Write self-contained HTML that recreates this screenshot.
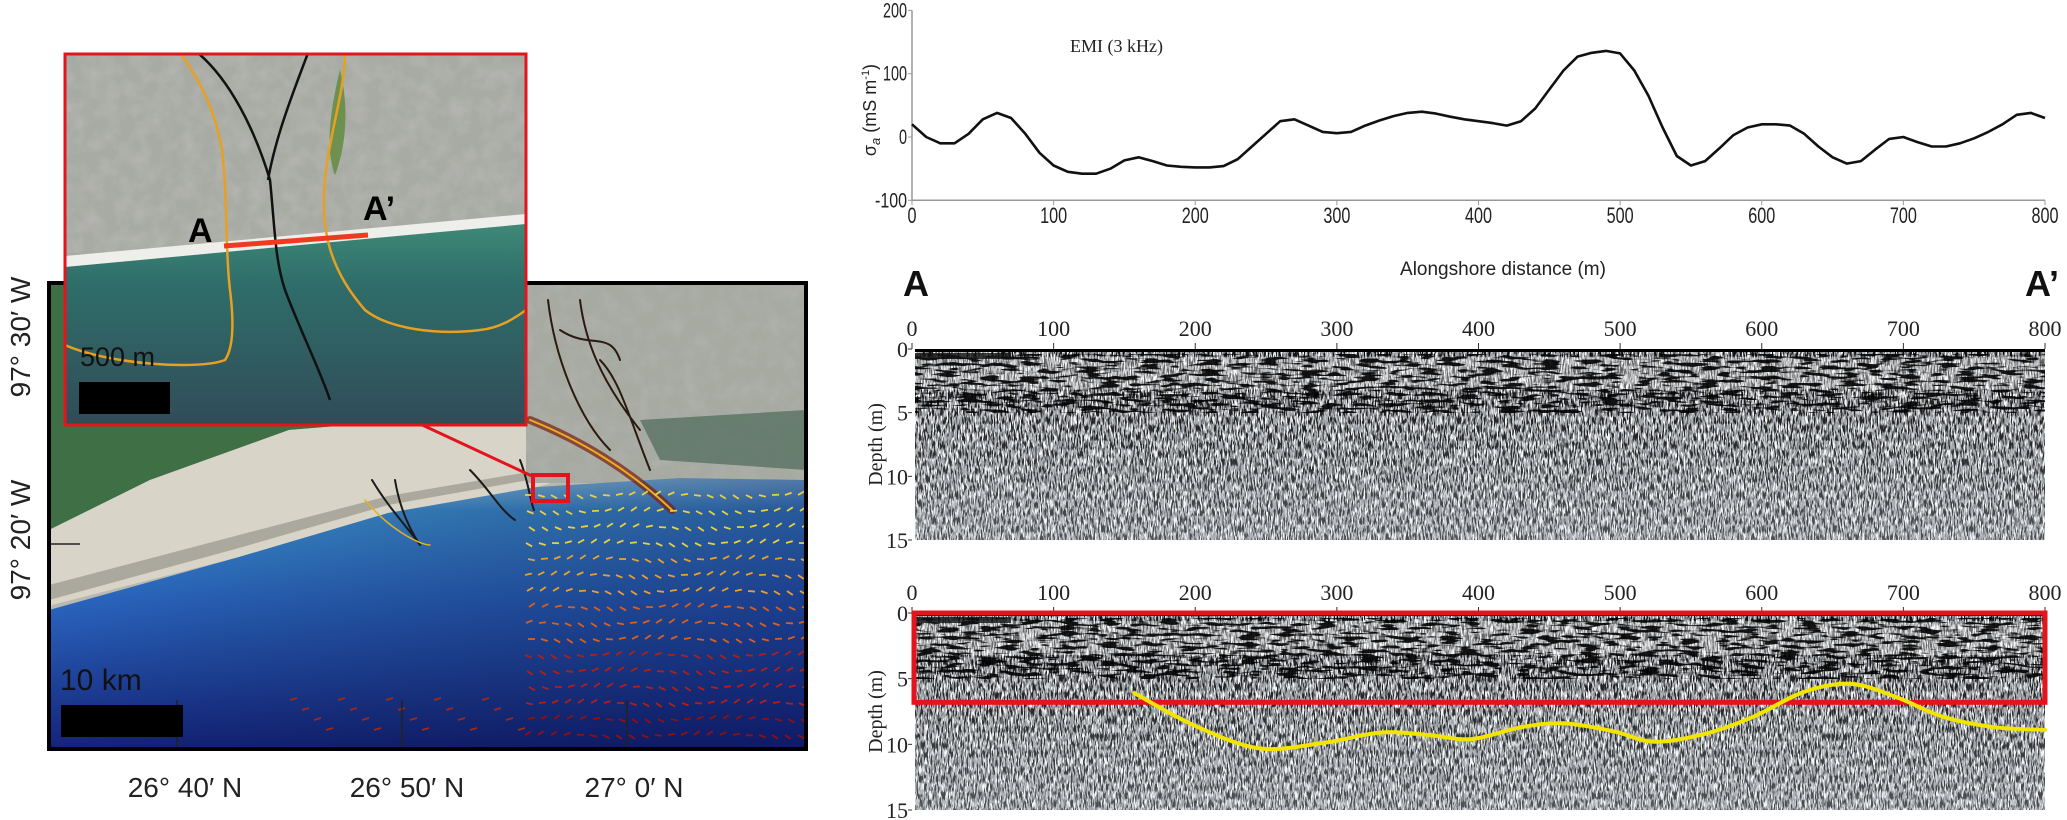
<!DOCTYPE html>
<html><head><meta charset="utf-8"><style>
html,body{margin:0;padding:0;background:#fff;width:2067px;height:820px;overflow:hidden}
svg{display:block}
.cond{font-family:"Liberation Sans Narrow","Liberation Sans",sans-serif}
.serif{font-family:"Liberation Serif",serif}
.sans{font-family:"Liberation Sans",sans-serif}
</style></head><body>
<svg id="fig" width="2067" height="820" viewBox="0 0 2067 820" xmlns="http://www.w3.org/2000/svg">
<defs>
 <linearGradient id="ocean" x1="0" y1="0" x2="0" y2="1">
  <stop offset="0" stop-color="#8fd0ef"/><stop offset="0.12" stop-color="#3f95d8"/>
  <stop offset="0.45" stop-color="#2a66c0"/><stop offset="1" stop-color="#14237a"/>
 </linearGradient>
 <linearGradient id="oceanR" x1="0" y1="0" x2="1" y2="0">
  <stop offset="0" stop-color="#000" stop-opacity="0"/><stop offset="1" stop-color="#0a0f50" stop-opacity="0.45"/>
 </linearGradient>
 <linearGradient id="water" x1="0" y1="0" x2="0" y2="1">
  <stop offset="0" stop-color="#3f8a78"/><stop offset="0.3" stop-color="#2f6e6a"/><stop offset="1" stop-color="#304c58"/>
 </linearGradient>
 <filter id="speck" x="0" y="0" width="100%" height="100%">
  <feTurbulence type="fractalNoise" baseFrequency="0.06" numOctaves="3" seed="4"/>
  <feColorMatrix type="matrix" values="0 0 0 0 0.45  0 0 0 0 0.45  0 0 0 0 0.43  0 0 0 -2.2 1.4"/>
 </filter>
 <filter id="gprB" x="0" y="0" width="100%" height="100%">
  <feTurbulence type="fractalNoise" baseFrequency="0.7 0.12" numOctaves="2" seed="7"/>
  <feColorMatrix type="matrix" values="0 0 0 0 0  0 0 0 0 0  0 0 0 0 0  -9 0 0 0 4.6"/>
 </filter>
 <filter id="gprW" x="0" y="0" width="100%" height="100%">
  <feTurbulence type="fractalNoise" baseFrequency="0.7 0.12" numOctaves="2" seed="19"/>
  <feColorMatrix type="matrix" values="0 0 0 0 1  0 0 0 0 1  0 0 0 0 1  -9 0 0 0 4.6"/>
 </filter>
 <filter id="bands" x="0" y="0" width="100%" height="100%">
  <feTurbulence type="fractalNoise" baseFrequency="0.05 0.3" numOctaves="2" seed="3"/>
  <feColorMatrix type="matrix" values="0 0 0 0 0  0 0 0 0 0  0 0 0 0 0  -10 0 0 0 5"/>
 </filter>
 <linearGradient id="fadeG" x1="0" y1="0" x2="0" y2="1">
  <stop offset="0" stop-color="#fff" stop-opacity="0"/><stop offset="0.45" stop-color="#e8eef2" stop-opacity="0.1"/><stop offset="1" stop-color="#dfe6ec" stop-opacity="0.3"/>
 </linearGradient>
 <clipPath id="mapclip"><rect x="49" y="283" width="757" height="466"/></clipPath>
 <clipPath id="insetclip"><rect x="65" y="53" width="461" height="372"/></clipPath>
</defs>

<!-- ================= MAP ================= -->
<g clip-path="url(#mapclip)">
 <rect x="49" y="283" width="757" height="466" fill="#b9b9b2"/>
 <path d="M49,283 L526,283 L526,420 L413,420 L289,430 L150,480 L49,530 Z" fill="#3f6f45"/>
 <path d="M49,530 L150,480 L289,430 L413,420 L526,418 L600,470 L537,487 L388,513 L239,557 L52,605 L49,610 Z" fill="#d8d4c8"/>
 <path d="M49,600 L239,548 L388,505 L540,478 L540,470 L388,496 L239,535 L49,585Z" fill="#8d8a80" opacity="0.6"/>
 <rect x="526" y="283" width="280" height="200" fill="#a6aaa0"/>
 <rect x="526" y="283" width="280" height="200" filter="url(#speck)" opacity="0.6"/>
 <path d="M640,420 L806,410 L806,470 L660,460Z" fill="#4d6a58" opacity="0.7"/>
 <path d="M49,610 L239,557 L388,513 L537,487 L680,478 L806,480 L806,749 L49,749 Z" fill="url(#ocean)"/>
 <path d="M49,610 L239,557 L388,513 L537,487 L680,478 L806,480 L806,749 L49,749 Z" fill="url(#oceanR)"/>
 <g fill="none" stroke-linecap="round">
  <path d="M530,420 C580,440 630,470 672,510" stroke="#7a1c10" stroke-width="8" opacity="0.7"/>
  <path d="M530,420 C580,440 630,470 672,510" stroke="#e8b020" stroke-width="2"/>
  <path d="M548,300 C555,360 580,420 610,450 M580,300 C585,340 600,380 640,430 M600,360 C620,380 630,420 650,470 M560,330 C590,350 610,330 620,360" stroke="#2a1a10" stroke-width="2"/>
  <path d="M372,480 C390,510 410,530 420,545 M395,480 C400,510 410,530 420,545 M470,470 C490,490 500,510 515,520 M520,460 C528,480 530,500 534,510" stroke="#1a1a1a" stroke-width="2"/>
  <path d="M365,500 C390,530 420,545 430,545" stroke="#e8b020" stroke-width="1.5"/>
 </g>
 <g id="dashes"></g>
 <line x1="49" y1="544" x2="80" y2="544" stroke="#222" stroke-width="1.5"/>
 <line x1="177" y1="700" x2="177" y2="749" stroke="#222" stroke-width="1.5"/>
 <line x1="402" y1="700" x2="402" y2="749" stroke="#222" stroke-width="1.5"/>
 <line x1="627" y1="700" x2="627" y2="749" stroke="#222" stroke-width="1.5"/>
 <text x="60" y="690" class="sans" font-size="30" fill="#111">10 km</text>
 <rect x="61" y="705" width="122" height="32" fill="#000"/>
 <rect x="533" y="475" width="35" height="26" fill="none" stroke="#e3141b" stroke-width="4"/>
</g>
<rect x="49" y="283" width="757" height="466" fill="none" stroke="#000" stroke-width="4"/>
<line x1="418" y1="423" x2="534" y2="477" stroke="#e3141b" stroke-width="3"/>

<!-- inset -->
<g clip-path="url(#insetclip)">
 <rect x="65" y="53" width="461" height="372" fill="#a8aba4"/>
 <rect x="65" y="53" width="461" height="200" filter="url(#speck)"/>
 <path d="M65,265 L526,222 L526,425 L65,425Z" fill="url(#water)"/>
 <path d="M65,256 L526,214 L526,224 L65,267Z" fill="#eeeeea"/>
 <path d="M340,70 C350,110 345,150 335,175 C325,150 330,110 340,70Z" fill="#5f8a3a" opacity="0.8"/>
 <g fill="none" stroke="#e8a020" stroke-width="2.5">
  <path d="M180,53 C200,80 215,110 222,150 C228,200 225,250 230,290 C235,330 232,350 225,360 C200,370 110,365 65,345"/>
  <path d="M345,53 C345,90 330,130 325,180 C320,230 330,270 365,310 C390,330 440,335 480,330 C500,328 515,318 526,310"/>
 </g>
 <path d="M198,53 C230,80 255,130 270,180 C275,230 275,260 285,290 C300,330 320,370 330,400 M308,53 C290,100 275,140 268,180" fill="none" stroke="#111" stroke-width="2.5"/>
 <line x1="224" y1="246" x2="368" y2="235" stroke="#f03a20" stroke-width="5"/>
 <text x="188" y="242" class="sans" font-weight="bold" font-size="34" fill="#000">A</text>
 <text x="363" y="220" class="sans" font-weight="bold" font-size="34" fill="#000">A’</text>
 <text x="80" y="366" class="sans" font-size="27" fill="#111">500 m</text>
 <rect x="79" y="382" width="91" height="32" fill="#000"/>
</g>
<rect x="65" y="54" width="461" height="371" fill="none" stroke="#e3141b" stroke-width="3"/>

<text transform="translate(30,337) rotate(-90)" text-anchor="middle" class="sans" font-size="28" fill="#222">97° 30′  W</text>
<text transform="translate(30,540) rotate(-90)" text-anchor="middle" class="sans" font-size="28" fill="#222">97° 20′  W</text>
<text x="185" y="797" text-anchor="middle" class="sans" font-size="28" fill="#222">26° 40′  N</text>
<text x="407" y="797" text-anchor="middle" class="sans" font-size="28" fill="#222">26° 50′  N</text>
<text x="634" y="797" text-anchor="middle" class="sans" font-size="28" fill="#222">27° 0′  N</text>

<!-- ================= EMI CHART ================= -->
<g id="emi"></g>
<text x="1070" y="52" class="serif" font-size="18" fill="#222">EMI (3 kHz)</text>
<text transform="translate(876,110) rotate(-90)" text-anchor="middle" class="cond" font-size="18" fill="#222">σ<tspan font-style="italic" font-size="13" dy="4">a</tspan><tspan dy="-4"> (mS m</tspan><tspan font-size="11" dy="-7">-1</tspan><tspan dy="7">)</tspan></text>
<text x="1503" y="275" text-anchor="middle" class="cond" font-size="19" fill="#222">Alongshore distance (m)</text>
<text x="903" y="296" class="cond" font-weight="bold" font-size="36" fill="#111">A</text>
<text x="2025" y="296" class="cond" font-weight="bold" font-size="36" fill="#111">A’</text>

<!-- ================= GPR ================= -->
<g id="gpr1"></g>
<g id="gpr2"></g>
</svg>

<script>
// ---- EMI data ----
const emiDist = [0,10,20,30,40,50,60,70,80,90,100,110,120,130,140,150,160,170,180,190,200,210,220,230,240,250,260,270,280,290,300,310,320,330,340,350,360,370,380,390,400,410,420,430,440,450,460,470,480,490,500,510,520,530,540,550,560,570,580,590,600,610,620,630,640,650,660,670,680,690,700,710,720,730,740,750,760,770,780,790,800];
const emiValue = [20,0,-10,-10,5,28,38,30,5,-25,-45,-55,-58,-58,-50,-37,-32,-38,-45,-47,-48,-48,-46,-35,-15,5,25,28,18,8,6,8,18,26,33,38,40,37,32,28,25,22,18,25,45,75,105,127,133,136,132,105,65,15,-30,-45,-38,-18,3,15,20,20,18,5,-15,-32,-42,-38,-20,-3,0,-8,-15,-15,-10,-2,8,20,35,38,30];
const emiYTicks = [-100,0,100,200];
const distTicks = [0,100,200,300,400,500,600,700,800];
const depthTicks = [0,5,10,15];
// ---- interpreted horizon (yellow) ----
const horizonDist = [157,200,245,290,331,365,395,430,460,495,524,560,594,630,663,695,728,765,800];
const horizonDepth = [6.1,8.6,10.3,9.9,9.1,9.3,9.6,8.7,8.4,9.0,9.8,9.2,7.9,6.0,5.4,6.4,7.9,8.7,8.9];
const boxDepth = [0,6.8];

const NS='http://www.w3.org/2000/svg';
function mk(tag,attrs,parent){const e=document.createElementNS(NS,tag);for(const k in attrs)e.setAttribute(k,attrs[k]);parent.appendChild(e);return e;}

const X0=912, X1=2045;
const xs = d => X0 + (d/800)*(X1-X0);
const emiY = v => 137 - v*0.633;
const emi=document.getElementById('emi');
let ax=mk('line',{x1:X0,y1:emiY(200),x2:X0,y2:emiY(-100),stroke:'#999','stroke-width':1.5},emi);


ax=mk('line',{x1:X0,y1:emiY(-100),x2:X1,y2:emiY(-100),stroke:'#999','stroke-width':1.5},emi);


emiYTicks.forEach(v=>{
  mk('line',{x1:X0-4,y1:emiY(v),x2:X0,y2:emiY(v),stroke:'#999','stroke-width':1},emi);
  const s=String(v);
  const t=mk('text',{x:X0-5,y:emiY(v)+7,'text-anchor':'end','font-size':21,fill:'#222',class:'cond',textLength:s.length*8,lengthAdjust:'spacingAndGlyphs'},emi);
  t.textContent=s;
  
  
});
distTicks.forEach(d=>{
  mk('line',{x1:xs(d),y1:emiY(-100),x2:xs(d),y2:emiY(-100)+5,stroke:'#999','stroke-width':1},emi);
  const s=String(d);
  const t=mk('text',{x:xs(d),y:223,'text-anchor':'middle','font-size':22,fill:'#222',class:'cond',textLength:s.length*9,lengthAdjust:'spacingAndGlyphs'},emi);
  t.textContent=s;
  
  
});
const emiLine=mk('path',{d:emiDist.map((d,i)=>(i?'L':'M')+xs(d).toFixed(1)+','+emiY(emiValue[i]).toFixed(1)).join(' '),fill:'none',stroke:'#111','stroke-width':2.6,'stroke-linejoin':'round'},emi);



function gpr(g, top, bottom, tickY, interp){
  const dy = d => top + d/15*(bottom-top);
  const L=X0+3, W=X1-X0-3, H=bottom-top;
  mk('rect',{x:L,y:top,width:W,height:H,fill:'#9a9ea4'},g);
  mk('rect',{x:L,y:top,width:W,height:H,filter:'url(#gprW)',opacity:0.95},g);
  mk('rect',{x:L,y:top,width:W,height:H,filter:'url(#gprB)',opacity:0.9},g);
  mk('rect',{x:L,y:top,width:W,height:H,fill:'url(#fadeG)'},g);
  mk('rect',{x:L,y:dy(0.6),width:W,height:dy(3.2)-dy(0.6),fill:'#fff',opacity:0.35},g);
  mk('rect',{x:L,y:dy(0.4),width:W,height:dy(5)-dy(0.4),filter:'url(#bands)',opacity:0.9},g);
  mk('rect',{x:L,y:top,width:W,height:3,fill:'#000'},g);
  mk('rect',{x:L,y:top+4,width:xs(70)-L,height:6,fill:'#111',opacity:0.8},g);
  distTicks.forEach(d=>{
    mk('line',{x1:xs(d),y1:top-6,x2:xs(d),y2:top,stroke:'#333','stroke-width':1},g);
    const t=mk('text',{x:xs(d),y:tickY,'text-anchor':'middle','font-size':22,fill:'#222',class:'serif'},g);
    t.textContent=d;
    
    
  });
  depthTicks.forEach(v=>{
    mk('line',{x1:X0-4,y1:dy(v),x2:X0,y2:dy(v),stroke:'#333','stroke-width':1},g);
    const t=mk('text',{x:X0-4,y:dy(v)+8,'text-anchor':'end','font-size':22,fill:'#222',class:'serif'},g);
    t.textContent=v;
    
    
  });
  const tt=mk('text',{transform:`translate(882,${(top+bottom)/2}) rotate(-90)`,'text-anchor':'middle','font-size':20,fill:'#222',class:'serif'},g);
  tt.textContent='Depth (m)';
  
  
  if(interp){
    const b=mk('rect',{x:xs(0)+2,y:dy(boxDepth[0]),width:xs(800)-xs(0)-2,height:dy(boxDepth[1])-dy(boxDepth[0]),fill:'none',stroke:'#e3141b','stroke-width':5},g);
    
    
    const pts=horizonDist.map((d,i)=>[xs(d),dy(horizonDepth[i])]);
    let p='M'+pts[0][0]+','+pts[0][1];
    for(let i=0;i<pts.length-1;i++){
      const p0=pts[Math.max(0,i-1)],p1=pts[i],p2=pts[i+1],p3=pts[Math.min(pts.length-1,i+2)];
      const c1=[p1[0]+(p2[0]-p0[0])/6,p1[1]+(p2[1]-p0[1])/6],c2=[p2[0]-(p3[0]-p1[0])/6,p2[1]-(p3[1]-p1[1])/6];
      p+=` C${c1[0].toFixed(1)},${c1[1].toFixed(1)} ${c2[0].toFixed(1)},${c2[1].toFixed(1)} ${p2[0].toFixed(1)},${p2[1].toFixed(1)}`;
    }
    const h=mk('path',{d:p,fill:'none',stroke:'#f2e500','stroke-width':4,'stroke-linecap':'round'},g);
    
    
  }
}
gpr(document.getElementById('gpr1'),349,540,336,false);
gpr(document.getElementById('gpr2'),613,810,600,true);

const dg=document.getElementById('dashes');
const cols=['#e8d040','#e8a030','#d86020','#b02018','#901010'];
for(let r=0;r<16;r++){for(let c=0;c<22;c++){
  const x=525+c*13+((r*7)%5), y=495+r*16;
  if(y>745) continue;
  const ang=Math.sin(r*0.7+c*0.5)*0.6;
  const ci=Math.min(4,Math.floor(r/3.3));
  mk('line',{x1:x,y1:y,x2:x+7*Math.cos(ang),y2:y+7*Math.sin(ang),stroke:cols[ci],'stroke-width':1.8},dg);
}}
for(let c=0;c<20;c++){const x=290+c*12,y=700+((c*5)%4)*10;
  mk('line',{x1:x,y1:y,x2:x+7,y2:y-2,stroke:'#a02818','stroke-width':1.8},dg);}
</script>
</body></html>
